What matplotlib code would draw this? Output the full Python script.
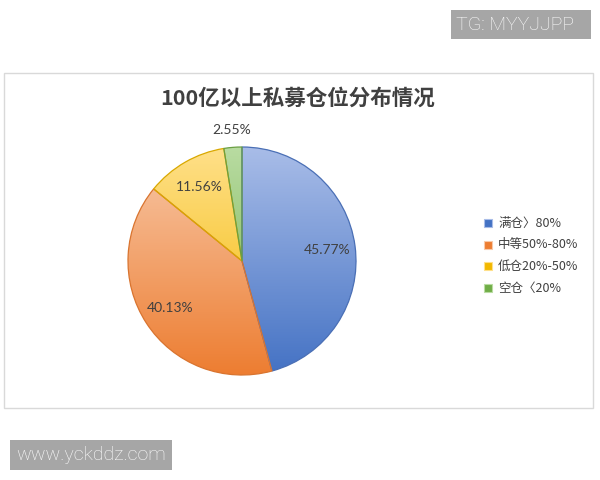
import numpy as np
import matplotlib
matplotlib.use("Agg")
import matplotlib.pyplot as plt
from matplotlib.colors import LinearSegmentedColormap
from matplotlib.patches import Rectangle

plt.rcParams['font.family'] = ['Noto Sans CJK SC', 'DejaVu Sans']

title = "100亿以上私募仓位分布情况"
categories = ["满仓〉80%", "中等50%-80%", "低仓20%-50%", "空仓〈20%"]
values = [45.77, 40.13, 11.56, 2.55]
pct_labels = ["45.77%", "40.13%", "11.56%", "2.55%"]
light_colors = ["#a9bde8", "#f8c9a9", "#ffe08a", "#b9dca2"]
dark_colors = ["#4472c4", "#ed7d31", "#f2b800", "#70ad47"]
edge_colors = ["#4a6fb5", "#d9742f", "#d9a800", "#6a9f43"]

W, H = 600, 480
fig = plt.figure(figsize=(6, 4.8), dpi=100)
fig.patch.set_facecolor("white")

def px_rect(x0, y0, x1, y1):
    return [x0 / W, 1 - y1 / H, (x1 - x0) / W, (y1 - y0) / H]

# chart border
frame = fig.add_axes([0, 0, 1, 1], zorder=0)
frame.set_xlim(0, W); frame.set_ylim(H, 0); frame.axis("off")
frame.add_patch(Rectangle((4, 73), 589, 335, fill=False, edgecolor="#d9d9d9", lw=1.0))

# pie
cx, cy, R = 242, 261, 114
half = 1.3 * R
ax = fig.add_axes(px_rect(cx - half, cy - half, cx + half, cy + half), zorder=1)
wedges, _ = ax.pie(values, startangle=90, counterclock=False, radius=1,
                   colors=dark_colors,
                   wedgeprops=dict(edgecolor="none", linewidth=0))
ax.set_xlim(-1.3, 1.3); ax.set_ylim(-1.3, 1.3); ax.set_aspect("auto")
ax.axis("off")

grad = np.linspace(0, 1, 256).reshape(-1, 1)
for w, lc, dc, ec in zip(wedges, light_colors, dark_colors, edge_colors):
    cmap = LinearSegmentedColormap.from_list("g", [lc, dc])
    im = ax.imshow(grad, cmap=cmap, extent=[-1, 1, -1, 1], origin="upper",
                   aspect="auto", zorder=1)
    im.set_clip_path(w)
    w.set_facecolor("none")
    w.set_edgecolor(ec)
    w.set_linewidth(0.9)
    w.set_zorder(2)

for i, (w, lab) in enumerate(zip(wedges, pct_labels)):
    ang = np.deg2rad((w.theta1 + w.theta2) / 2)
    r = 0.75 if i < 3 else 1.15
    ax.text(r * np.cos(ang), r * np.sin(ang), lab, ha="center", va="center",
            fontsize=10, color="#404040", family=["Lato", "DejaVu Sans"], zorder=3)

# title
fig.text(298 / W, 1 - 98 / H, title, ha="center", va="center", fontsize=15.5,
         fontweight="bold", color="#404040")

# legend
leg_y = [223, 244.5, 266, 288]
for i, (cat, lc, dc) in enumerate(zip(categories, light_colors, dark_colors)):
    y = leg_y[i]
    frame.add_patch(Rectangle((484, y - 4), 8, 8, facecolor=dc, edgecolor=lc, lw=0.8))
    frame.text(498, y, cat, ha="left", va="center", fontsize=9, color="#404040",
               family=["Noto Sans CJK SC", "DejaVu Sans"])

# watermarks
frame.add_patch(Rectangle((451, 10), 140, 29, facecolor="#a6a6a6", edgecolor="none"))
frame.text(456, 25, "TG: MYYJJPP", ha="left", va="center", fontsize=14,
           color="white", family=["Roboto", "DejaVu Sans"], fontweight="light")
frame.add_patch(Rectangle((10, 440), 162, 30, facecolor="#a6a6a6", edgecolor="none"))
frame.text(16, 455, "www.yckddz.com", ha="left", va="center", fontsize=14,
           color="white", family=["Roboto", "DejaVu Sans"], fontweight="light")

fig.savefig("out.png", dpi=100, facecolor="white")
